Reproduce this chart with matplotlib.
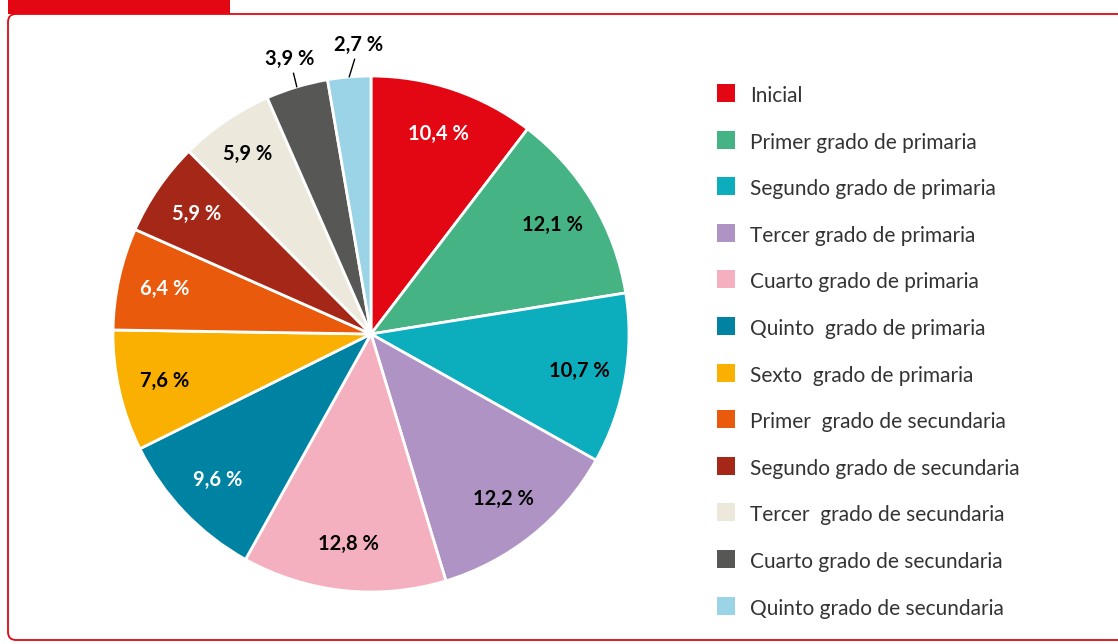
import numpy as np
import matplotlib.pyplot as plt
from matplotlib.patches import Rectangle, FancyBboxPatch

# ── Data ──────────────────────────────────────────────────────────────────────
grados = [
    "Inicial",
    "Primer grado de primaria",
    "Segundo grado de primaria",
    "Tercer grado de primaria",
    "Cuarto grado de primaria",
    "Quinto  grado de primaria",
    "Sexto  grado de primaria",
    "Primer  grado de secundaria",
    "Segundo grado de secundaria",
    "Tercer  grado de secundaria",
    "Cuarto grado de secundaria",
    "Quinto grado de secundaria",
]
porcentajes = [10.4, 12.1, 10.7, 12.2, 12.8, 9.6, 7.6, 6.4, 5.9, 5.9, 3.9, 2.7]
colores = ["#E30613", "#45B384", "#0CAEBD", "#AE93C4", "#F4B0BE", "#0083A3",
           "#F9B000", "#E95A0C", "#A52717", "#ECE8DC", "#575756", "#9BD3E7"]
texto_blanco = [True, False, False, False, False, True,
                False, True, True, False, False, False]

RED = "#E30613"
W, H = 1118, 644

fig = plt.figure(figsize=(W / 100, H / 100), dpi=100)

# ── Frame (pixel coordinates) ─────────────────────────────────────────────────
bg = fig.add_axes([0, 0, 1, 1])
bg.set_xlim(0, W)
bg.set_ylim(H, 0)
bg.axis("off")
bg.add_patch(FancyBboxPatch((8, 14), 1200, 626, boxstyle="round,pad=0,rounding_size=8",
                            fc="none", ec=RED, lw=1.3))
bg.add_patch(Rectangle((8, 0), 222, 14, fc=RED, ec="none"))

# ── Pie ───────────────────────────────────────────────────────────────────────
cx, cy, R = 371, 334, 258
ax = fig.add_axes([(cx - 300) / W, (H - cy - 300) / H, 600 / W, 600 / H])
wedges, _ = ax.pie(porcentajes, colors=colores, startangle=90, counterclock=False,
                   radius=R, wedgeprops=dict(edgecolor="white", linewidth=2))
ax.set_xlim(-300, 300)
ax.set_ylim(-300, 300)
ax.set_aspect("equal")
ax.axis("off")

tot = sum(porcentajes)
cum = np.cumsum([0] + porcentajes[:-1])
for i, (p, c0) in enumerate(zip(porcentajes, cum)):
    ang = np.deg2rad(90 - 360 * (c0 + p / 2) / tot)
    lab = f"{p:.1f} %".replace(".", ",")
    col = "white" if texto_blanco[i] else "black"
    if i >= 10:
        # small slices: label outside with leader line
        ex, ey = R * np.cos(ang), R * np.sin(ang)
        if i == 10:
            tx, ty = -81, 275
        else:
            tx, ty = -12, 289
        ax.annotate(lab, xy=(ex, ey), xytext=(tx, ty), ha="center", va="center",
                    fontsize=14.5, fontweight="bold", family="Lato", color=col,
                    arrowprops=dict(arrowstyle="-", color="black", lw=1,
                                    shrinkA=1, shrinkB=0))
    else:
        rr = 0.845 * R if i == 9 else 0.82 * R
        ax.text(rr * np.cos(ang), rr * np.sin(ang), lab, ha="center", va="center",
                fontsize=14.5, fontweight="bold", family="Lato", color=col)

# ── Legend (manual) ───────────────────────────────────────────────────────────
y0, dy = 93, 46.6
for i, (g, c) in enumerate(zip(grados, colores)):
    y = y0 + i * dy
    bg.add_patch(Rectangle((717, y - 9), 18, 18, fc=c, ec="none"))
    bg.text(750, y + 3, g, ha="left", va="center", fontsize=15, family="Lato",
            color="#333333")

fig.savefig("out.png", dpi=100)
